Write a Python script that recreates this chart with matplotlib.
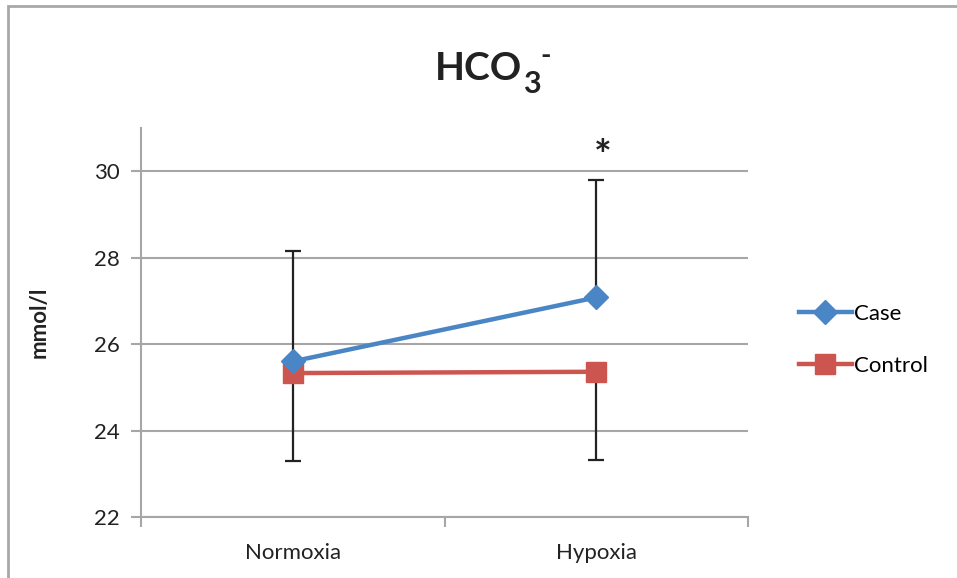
import numpy as np
import matplotlib.pyplot as plt
from matplotlib.patches import Rectangle

plt.rcParams['font.family'] = ['Lato', 'DejaVu Sans']

# data
conditions = ['Normoxia', 'Hypoxia']
case_mean = [25.6, 27.08]
case_err_up = [2.56, 2.72]
control_mean = [25.33, 25.36]
control_err_down = [2.03, 2.03]
y_ticks = [22, 24, 26, 28, 30]

BLUE = '#4A86C5'
RED = '#CC5550'
GRID = '#A6A6A6'
TXT = '#222222'

fig = plt.figure(figsize=(9.57, 5.78), dpi=100)
ax = fig.add_axes([141 / 957, 1 - 517 / 578, (748 - 141) / 957, (517 - 128) / 578])

# outer chart frame (cropped on right and bottom)
fig.patches.append(Rectangle((8 / 957, -0.05), 1.2, 1 - 6 / 578 + 0.05,
                             transform=fig.transFigure, fill=False,
                             edgecolor='#A8A8A8', linewidth=2))

x = np.arange(len(conditions))

ax.errorbar(x, case_mean, yerr=[np.zeros(2), case_err_up], fmt='none',
            ecolor=TXT, elinewidth=1.6, capsize=5.5, capthick=1.6, zorder=2)
ax.errorbar(x, control_mean, yerr=[control_err_down, np.zeros(2)], fmt='none',
            ecolor=TXT, elinewidth=1.6, capsize=5.5, capthick=1.6, zorder=2)

ax.plot(x, case_mean, color=BLUE, lw=3.2, marker='D', markersize=12,
        markeredgecolor=BLUE, label='Case', zorder=4)
ax.plot(x, control_mean, color=RED, lw=3.2, marker='s', markersize=15,
        markeredgecolor=RED, label='Control', zorder=3)

ax.text(x[1] + 0.02, case_mean[1] + case_err_up[1] + 0.5, '*', ha='center',
        va='center', fontsize=30, fontweight='bold', color=TXT)

ax.set_xlim(-0.5, 1.5)
ax.set_ylim(22, 31)
ax.set_yticks(y_ticks)
ax.set_xticks([-0.5, 0.5, 1.5])
ax.set_xticklabels([])
ax.set_xticks(x, minor=True)
ax.set_xticklabels(conditions, minor=True)
ax.tick_params(axis='x', which='minor', length=0, pad=19, labelsize=16, labelcolor=TXT)
ax.tick_params(axis='x', which='major', length=7, direction='out', color=GRID, width=1.5)
ax.tick_params(axis='y', length=7, direction='out', color=GRID, width=1.5,
               labelsize=16, labelcolor=TXT, pad=8)
ax.yaxis.grid(True, color=GRID, lw=1.5)
ax.set_axisbelow(True)
for s in ['top', 'right']:
    ax.spines[s].set_visible(False)
for s in ['left', 'bottom']:
    ax.spines[s].set_color(GRID)
    ax.spines[s].set_linewidth(1.5)

ax.set_ylabel('mmol/l', fontsize=16, fontweight='bold', color=TXT, labelpad=32)

# title HCO3- with subscript and superscript
fig.text(435 / 957, 1 - 80 / 578, 'HCO', ha='left', va='baseline',
         fontsize=28, fontweight='bold', color=TXT)
fig.text(523 / 957, 1 - 93 / 578, '3', ha='left', va='baseline',
         fontsize=22, fontweight='bold', color=TXT)
fig.text(540 / 957, 1 - 64 / 578, '-', ha='left', va='baseline',
         fontsize=20, fontweight='bold', color=TXT)

ax.legend(loc='center left', bbox_to_anchor=(1.065, 0.455), frameon=False, fontsize=16,
          handlelength=2.4, labelspacing=1.45, handletextpad=0.1, borderpad=0)

fig.savefig('out.png', dpi=100)
